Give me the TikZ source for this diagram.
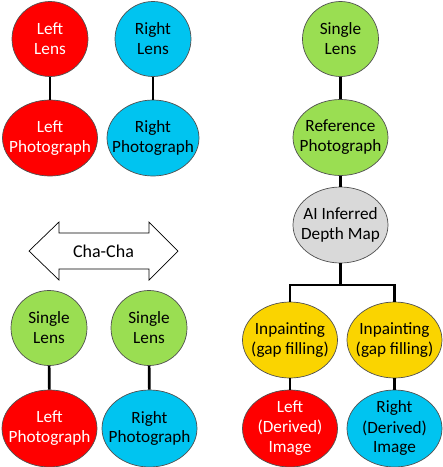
\documentclass[tikz,border=0pt]{standalone}
\usepackage{fontspec}
\setmainfont{Carlito}
\usetikzlibrary{shapes.geometric}
\definecolor{cred}{HTML}{FF0000}
\definecolor{cblue}{HTML}{00C4F0}
\definecolor{cgreen}{HTML}{9ADE52}
\definecolor{cgray}{HTML}{D9D9D9}
\definecolor{cyellow}{HTML}{FAD400}
\definecolor{cedge}{HTML}{505050}
\begin{document}
\begin{tikzpicture}[x=1pt,y=-1pt,
  bub/.style={ellipse, draw=cedge, line width=0.7pt, inner sep=0pt},
  cir/.style={bub, minimum width=76pt, minimum height=75pt},
  ova/.style={bub, minimum width=95pt, minimum height=76pt},
  tb/.style={align=center, inner sep=0pt, text=black, font=\fontsize{17.2}{20}\selectfont},
  tw/.style={tb, text=white},
  redb/.style={fill=cred},
  blueb/.style={fill=cblue},
  greenb/.style={fill=cgreen},
  grayb/.style={fill=cgray},
  yelb/.style={fill=cyellow},
  conn/.style={line width=2.6pt, black}]
\path[fill=white] (0,0) rectangle (443,467);
\useasboundingbox (0,0) rectangle (443,467);

% top-left pair
\node[cir, redb, label={[tw]center:Left\\Lens}] (LL) at (50,39) {};
\node[ova, redb, label={[tw]center:Left\\Photograph}] (LP) at (50,138) {};
\node[cir, blueb, label={[tb]center:Right\\Lens}] (RL) at (153,39) {};
\node[ova, blueb, minimum width=92pt, label={[tb]center:Right\\Photograph}] (RP) at (153,138) {};
\draw[conn] (LL) -- (LP);
\draw[conn] (RL) -- (RP);

% right column
\node[cir, greenb, label={[tb]center:Single\\Lens}] (SL) at (340.5,39) {};
\node[ova, greenb, label={[tb]center:Reference\\Photograph}] (RefP) at (340.5,137.5) {};
\node[ova, grayb, label={[tb]center:AI Inferred\\Depth Map}] (AI) at (340.5,225) {};
\node[ova, yelb, label={[tb]center:Inpainting\\(gap filling)}] (IP1) at (290,340) {};
\node[ova, yelb, label={[tb]center:Inpainting\\(gap filling)}] (IP2) at (394.5,340) {};
\node[ova, redb, minimum height=77pt, label={[tw]center:Left\\(Derived)\\Image}] (LD) at (290,428.5) {};
\node[ova, blueb, minimum height=77pt, label={[tb]center:Right\\(Derived)\\Image}] (RD) at (394.5,428.5) {};
\coordinate (split) at (340.5,285);
\draw[conn] (SL) -- (RefP);
\draw[conn] (RefP) -- (AI);
\draw[conn] (AI) -- (split);
\draw[conn] (split) -| (IP1.north);
\draw[conn] (split) -| (IP2.north);
\draw[conn] (IP1) -- (LD);
\draw[conn] (IP2) -- (RD);

% bottom-left
\draw[draw=black, line width=0.7pt, fill=white]
  (29,251) -- (59,222) -- (59,233) -- (149,233) -- (149,222) -- (178,251)
  -- (149,280) -- (149,269) -- (59,269) -- (59,280) -- cycle;
\node[tb, font=\fontsize{18}{20}\selectfont] (cha) at (103.5,251) {Cha-Cha};
\node[cir, greenb, label={[tb]center:Single\\Lens}] (SL1) at (49,328) {};
\node[ova, redb, minimum height=77pt, label={[tw]center:Left\\Photograph}] (LP2) at (49.5,428.5) {};
\node[cir, greenb, label={[tb]center:Single\\Lens}] (SL2) at (149,328) {};
\node[ova, blueb, minimum height=77pt, label={[tb]center:Right\\Photograph}] (RP2) at (149.5,428.5) {};
\draw[conn] (SL1) -- (LP2);
\draw[conn] (SL2) -- (RP2);
\end{tikzpicture}
\end{document}
